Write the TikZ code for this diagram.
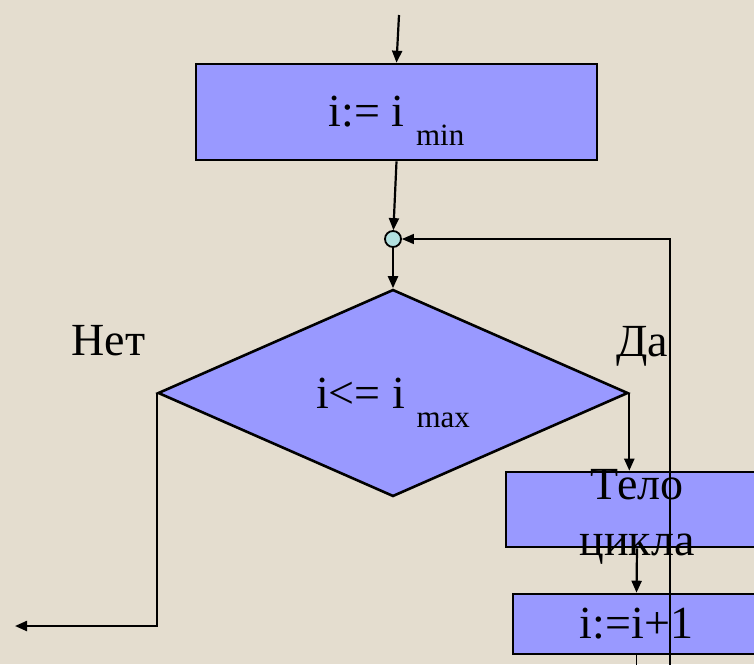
\documentclass[tikz,border=0pt]{standalone}
\usepackage{fontspec}
\setmainfont{Liberation Serif}
\usetikzlibrary{arrows.meta,shapes.geometric}
\definecolor{mybg}{RGB}{228,221,207}
\definecolor{myblue}{RGB}{153,153,255}
\definecolor{mycyan}{RGB}{178,224,224}
\newcommand{\bigtxt}{\fontsize{46}{56}\selectfont}
\newcommand{\subtxt}[1]{\smash{\raisebox{-19pt}{\fontsize{31}{34}\selectfont #1}}}

\begin{document}
\begin{tikzpicture}[x=1pt,y=-1pt,
  procbox/.style={draw, line width=2.6pt, fill=myblue, inner sep=0pt, font=\bigtxt},
  arr/.style={line width=2.2pt, -{Triangle[length=12pt,width=10pt]}},
  thinarr/.style={line width=1.4pt, -{Triangle[length=12pt,width=10pt]}}]
  \useasboundingbox (0,0) rectangle (754,664);
  \fill[mybg] (0,0) rectangle (754,664);

  % blocks
  \node[procbox, minimum width=401pt, minimum height=96pt] (init) at (396.5,112) {i:= i \subtxt{min}};
  \node[draw, circle, line width=1.8pt, fill=mycyan, minimum size=16pt, inner sep=0pt] (join) at (393,239) {};
  \node[procbox, diamond, minimum width=470pt, minimum height=207pt] (cond) at (393,393) {i<= i \subtxt{max}};
  \node[procbox, minimum width=262pt, minimum height=75pt,
        label={[font=\bigtxt, align=center, yshift=-7.5pt]center:{Тело\\цикла}}] (body) at (637,509.5) {};
  \node[procbox, minimum width=247pt, minimum height=60pt] (incr) at (636.5,624) {i:=i+1};

  \node[font=\bigtxt] (no) at (108.5,340.5) {Нет};
  \node[font=\bigtxt] (yes) at (642.5,346) {Да};

  % connectors
  \coordinate (entry) at (399,15);
  \coordinate (exit) at (15,626);
  \coordinate (turn) at (670,690);
  \draw[arr] (entry) -- (init.north);
  \draw[arr] (init.south) -- (join);
  \draw[arr] (join) -- (cond.north);
  \draw[arr] (cond.west) |- (exit);
  \draw[arr] (cond.east) -- (cond.east |- body.north);
  \draw[arr] (body.south) -- (incr.north);
  \draw[thinarr] (incr.south) |- (turn) |- (join);
\end{tikzpicture}
\end{document}
